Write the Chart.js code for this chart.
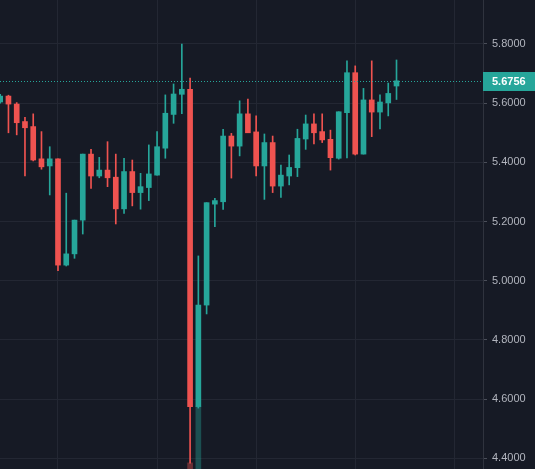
<!DOCTYPE html>
<html>
<head>
<meta charset="utf-8">
<script src="https://cdn.jsdelivr.net/npm/chart.js@4/dist/chart.umd.min.js"></script>
<style>
  html, body { margin: 0; padding: 0; background: #161a25; }
  #wrap { width: 535px; height: 469px; position: relative; }
</style>
</head>
<body>
<div id="wrap"><canvas id="c"></canvas></div>
<script>
// ---- data ----
const opens  = [5.604,5.624,5.597,5.538,5.521,5.412,5.388,5.412,5.053,5.091,
                5.205,5.428,5.354,5.374,5.350,5.243,5.369,5.298,5.315,5.357,
                5.448,5.562,5.630,5.647,4.575,4.918,5.259,5.267,5.489,5.455,
                5.564,5.503,5.388,5.467,5.320,5.354,5.382,5.479,5.530,5.504,
                5.478,5.414,5.568,5.703,5.428,5.611,5.570,5.601,5.658];
const highs  = [5.630,5.627,5.602,5.552,5.564,5.504,5.453,5.412,5.296,5.205,
                5.428,5.444,5.417,5.470,5.428,5.414,5.408,5.363,5.459,5.504,
                5.628,5.665,5.800,5.685,5.084,5.264,5.279,5.512,5.498,5.608,
                5.614,5.557,5.496,5.489,5.391,5.425,5.512,5.560,5.564,5.564,
                5.509,5.571,5.743,5.726,5.650,5.743,5.628,5.668,5.746];
const lows   = [5.600,5.500,5.493,5.354,5.405,5.377,5.290,5.034,5.050,5.076,
                5.158,5.312,5.348,5.318,5.192,5.228,5.253,5.242,5.271,5.357,
                5.414,5.532,5.565,4.384,4.570,4.888,5.183,5.241,5.347,5.422,
                5.500,5.354,5.275,5.298,5.282,5.324,5.352,5.444,5.462,5.467,
                5.374,5.411,5.415,5.425,5.428,5.487,5.513,5.557,5.6125];
const closes = [5.624,5.597,5.534,5.517,5.408,5.385,5.412,5.053,5.091,5.205,
                5.428,5.354,5.374,5.348,5.243,5.369,5.298,5.318,5.361,5.453,
                5.566,5.631,5.647,4.575,4.918,5.264,5.271,5.489,5.455,5.564,
                5.500,5.388,5.467,5.320,5.357,5.383,5.481,5.530,5.500,5.476,
                5.416,5.571,5.703,5.428,5.611,5.570,5.604,5.633,5.6756];
// volume (only the two largest bars reach into the visible area)
const volumes = [null,null,null,null,null,null,null,null,null,null,
                 null,null,null,null,null,null,null,null,null,null,
                 null,null,null,1.3,13.4,null,null,null,null,null,
                 null,null,null,null,null,null,null,null,null,null,
                 null,null,null,null,null,null,null,null,null];
const yTicks = [4.4, 4.6, 4.8, 5.0, 5.2, 5.4, 5.6, 5.8];
const timeGridIdx = [7, 19, 31, 43, 55];
const lastPrice = 5.6756;

// ---- styling ----
const BG = '#161a25';
const UP = '#26a69a';
const DOWN = '#ef5350';
const UP_VOL = 'rgba(38,166,154,0.38)';
const DOWN_VOL = 'rgba(239,83,80,0.38)';
const GRID = '#232733';
const TEXT = '#b2b5be';

const idx = opens.map((_, i) => i);
const isUp = idx.map(i => closes[i] >= opens[i]);

const wickData = idx.map(i => ({ x: i, y: [lows[i], highs[i]] }));
const bodyData = idx.map(i => ({ x: i, y: [opens[i], closes[i]] }));
const volData = idx.map(i => ({ x: i, y: volumes[i] }));

const bgPlugin = {
  id: 'bg',
  beforeDraw(chart) {
    const ctx = chart.ctx;
    ctx.save();
    ctx.fillStyle = BG;
    ctx.fillRect(0, 0, chart.width, chart.height);
    ctx.restore();
  }
};

const priceLinePlugin = {
  id: 'priceLine',
  afterDraw(chart) {
    const ctx = chart.ctx;
    const y = chart.scales.y;
    const area = chart.chartArea;
    const py = Math.round(y.getPixelForValue(lastPrice)) + 0.5;
    ctx.save();
    ctx.strokeStyle = UP;
    ctx.lineWidth = 1;
    ctx.setLineDash([1, 2]);
    ctx.beginPath();
    ctx.moveTo(area.left, py);
    ctx.lineTo(area.right, py);
    ctx.stroke();
    ctx.setLineDash([]);
    // label box on axis
    const h = 19;
    ctx.fillStyle = UP;
    ctx.fillRect(y.left, Math.round(py - h / 2), chart.width - y.left, h);
    ctx.fillStyle = '#ffffff';
    ctx.font = 'bold 11px "Liberation Sans", Arial, sans-serif';
    ctx.textAlign = 'left';
    ctx.textBaseline = 'middle';
    ctx.fillText(lastPrice.toFixed(4), y.left + 9, py + 0.5);
    ctx.restore();
  }
};

new Chart(document.getElementById('c'), {
  type: 'bar',
  data: {
    datasets: [
      {
        label: 'volume',
        data: volData,
        yAxisID: 'v',
        backgroundColor: idx.map(i => isUp[i] ? UP_VOL : DOWN_VOL),
        barThickness: 5,
        grouped: false,
        order: 3
      },
      {
        label: 'wick',
        data: wickData,
        yAxisID: 'y',
        backgroundColor: idx.map(i => isUp[i] ? UP : DOWN),
        barThickness: 1,
        grouped: false,
        order: 2
      },
      {
        label: 'body',
        data: bodyData,
        yAxisID: 'y',
        backgroundColor: idx.map(i => isUp[i] ? UP : DOWN),
        barThickness: 5,
        grouped: false,
        order: 1
      }
    ]
  },
  options: {
    responsive: true,
    maintainAspectRatio: false,
    animation: false,
    devicePixelRatio: 1,
    layout: { padding: 0 },
    plugins: { legend: { display: false }, tooltip: { enabled: false } },
    scales: {
      x: {
        type: 'linear',
        min: -0.024,
        max: 58.476,
        offset: false,
        afterBuildTicks(scale) { scale.ticks = timeGridIdx.map(v => ({ value: v })); },
        ticks: { display: false },
        grid: { color: GRID, drawTicks: false, lineWidth: 1, offset: false },
        border: { display: false }
      },
      y: {
        type: 'linear',
        position: 'right',
        min: 4.3642,
        max: 5.9486,
        afterBuildTicks(scale) { scale.ticks = yTicks.map(v => ({ value: v })); },
        afterFit(scale) {
          scale.width = 52;
          scale.paddingTop = 0;
          scale.paddingBottom = 0;
        },
        ticks: {
          color: TEXT,
          padding: 5,
          font: { family: '"Liberation Sans", Arial, sans-serif', size: 11 },
          callback: v => Number(v).toFixed(4)
        },
        grid: { color: GRID, tickColor: '#4a4e59', tickLength: 4, lineWidth: 1 },
        border: { display: true, color: '#2f333e' }
      },
      v: {
        type: 'linear',
        display: false,
        min: 0,
        max: 100
      }
    }
  },
  plugins: [bgPlugin, priceLinePlugin]
});
</script>
</body>
</html>
